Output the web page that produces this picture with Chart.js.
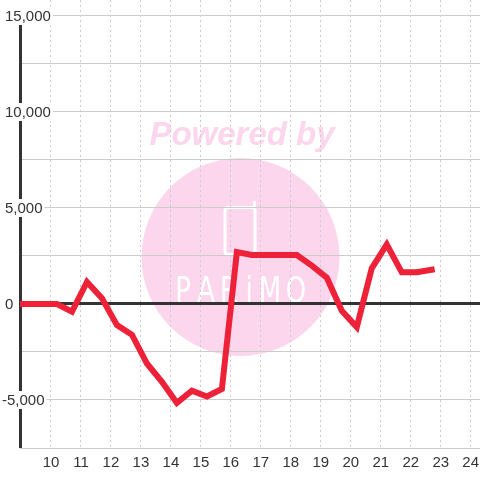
<!DOCTYPE html>
<html>
<head>
<meta charset="utf-8">
<script src="https://cdn.jsdelivr.net/npm/chart.js@4/dist/chart.umd.min.js"></script>
<style>
  html, body { margin: 0; padding: 0; background: #ffffff; }
  #wrap { width: 480px; height: 480px; }
</style>
</head>
<body>
<div id="wrap"><canvas id="c" width="480" height="480"></canvas></div>
<script>
// ---- data (hour of day, value) ----
const times = [8.7, 9.2, 9.7, 10.2, 10.7, 11.2, 11.7, 12.2, 12.7, 13.2, 13.7, 14.2, 14.7, 15.2, 15.7,
               16.2, 16.7, 17.2, 17.7, 18.2, 18.7, 19.2, 19.7, 20.2, 20.7, 21.2, 21.7, 22.2, 22.7];
const values = [0, 0, 0, 0, -400, 1150, 300, -1100, -1600, -3100, -4050, -5150, -4520, -4820, -4430,
                2700, 2550, 2550, 2550, 2550, 2000, 1370, -350, -1200, 1860, 3100, 1650, 1650, 1780];
const xTicks = [10, 11, 12, 13, 14, 15, 16, 17, 18, 19, 20, 21, 22, 23, 24];
const yGridTicks = [-7500, -5000, -2500, 0, 2500, 5000, 7500, 10000, 12500, 15000];
const yLabelTicks = [-5000, 0, 5000, 10000, 15000];

const FONT = '15px "Liberation Sans", Arial, sans-serif';

const watermark = {
  id: 'watermark',
  beforeDraw(chart) {
    const ctx = chart.ctx;
    ctx.save();
    ctx.fillStyle = '#ffffff';
    ctx.fillRect(0, 0, chart.width, chart.height);
    ctx.fillStyle = '#fbd6ec';
    ctx.beginPath();
    ctx.arc(240.5, 257, 99, 0, Math.PI * 2);
    ctx.fill();
    ctx.font = 'italic bold 33px "Liberation Sans"';
    ctx.textAlign = 'center';
    ctx.textBaseline = 'alphabetic';
    ctx.fillText('Powered by', 242, 145);
    // phone icon
    ctx.strokeStyle = '#ffffff';
    ctx.lineWidth = 3;
    ctx.beginPath();
    ctx.roundRect(225, 207.5, 30, 47, 3);
    ctx.stroke();
    ctx.beginPath();
    ctx.moveTo(254.5, 208);
    ctx.lineTo(254.5, 201);
    ctx.stroke();
    // logo text
    ctx.fillStyle = '#ffffff';
    ctx.font = '36px "DejaVu Sans"';
    const letters = ['P', 'A', 'R', 'i', 'M', 'O'];
    const cx = [183, 206, 229, 249, 270, 296];
    letters.forEach((l, i) => {
      ctx.save();
      ctx.translate(cx[i], 302);
      ctx.scale(0.72, 1);
      ctx.fillText(l, 0, 0);
      ctx.restore();
    });
    ctx.restore();
  }
};

const yAxisLine = {
  id: 'yAxisLine',
  beforeDatasetsDraw(chart) {
    const y = chart.scales.y;
    const ctx = chart.ctx;
    const x = Math.round(chart.chartArea.left - 1.5) + 1.5;
    ctx.save();
    ctx.strokeStyle = '#333333';
    ctx.lineWidth = 3;
    ctx.beginPath();
    ctx.moveTo(x, y.getPixelForValue(15000));
    ctx.lineTo(x, y.bottom);
    ctx.stroke();
    ctx.restore();
  }
};

const yLabels = {
  id: 'yLabels',
  afterDatasetsDraw(chart) {
    const y = chart.scales.y;
    const ctx = chart.ctx;
    ctx.save();
    ctx.font = FONT;
    ctx.textAlign = 'left';
    ctx.textBaseline = 'middle';
    yLabelTicks.forEach(v => {
      const label = v.toLocaleString('en-US');
      const py = y.getPixelForValue(v);
      const x = v < 0 ? 2 : 5;
      const w = ctx.measureText(label).width;
      ctx.fillStyle = '#ffffff';
      ctx.fillRect(x - 2, py - 9, w + 4, 18);
      ctx.fillStyle = '#333333';
      ctx.fillText(label, x, py + 1);
    });
    ctx.restore();
  }
};

Chart.defaults.font.family = '"Liberation Sans", Arial, sans-serif';
Chart.defaults.font.size = 15;
Chart.defaults.color = '#333333';

new Chart(document.getElementById('c'), {
  type: 'line',
  data: {
    datasets: [{
      data: times.map((t, i) => ({ x: t, y: values[i] })),
      borderColor: '#ed2137',
      borderWidth: 6,
      pointRadius: 0,
      tension: 0,
      fill: false,
      borderJoinStyle: 'miter',
      borderCapStyle: 'square'
    }]
  },
  options: {
    responsive: false,
    devicePixelRatio: 1,
    animation: false,
    layout: { padding: { left: 20, right: 0, top: 0, bottom: 8 } },
    plugins: { legend: { display: false }, tooltip: { enabled: false } },
    scales: {
      x: {
        type: 'linear',
        min: 8.966,
        max: 24.31,
        afterBuildTicks: (s) => { s.ticks = xTicks.map(v => ({ value: v })); },
        grid: { color: '#cccccc', lineWidth: 1, drawTicks: true, tickLength: 6, tickColor: 'rgba(0,0,0,0)' },
        border: { display: true, color: '#cccccc', width: 1, dash: [2, 3] },
        ticks: { padding: 0, maxRotation: 0, autoSkip: false, color: '#333333', callback: (v) => String(v) }
      },
      y: {
        type: 'linear',
        min: -7500,
        max: 15833.33,
        afterBuildTicks: (s) => { s.ticks = yGridTicks.map(v => ({ value: v })); },
        grid: {
          drawTicks: false,
          color: (c) => (c.tick && c.tick.value === 0 ? '#333333' : '#cccccc'),
          lineWidth: (c) => (c.tick && c.tick.value === 0 ? 3 : 1)
        },
        border: { display: false },
        ticks: { display: false }
      }
    }
  },
  plugins: [watermark, yAxisLine, yLabels]
});
</script>
</body>
</html>
